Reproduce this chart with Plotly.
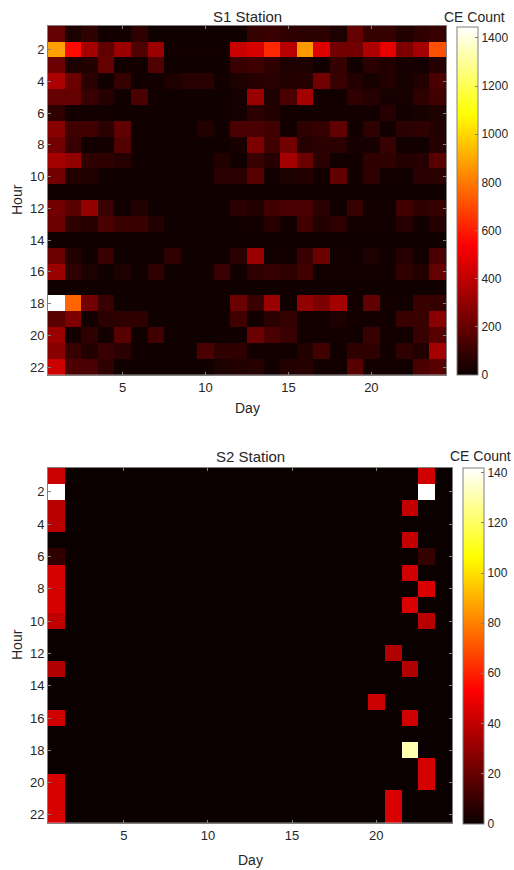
import plotly.graph_objects as go

days = list(range(1, 25))
hours = list(range(1, 23))

# S1 station CE counts: one row per hour (1..22), one value per day (1..24)
s1_counts = [
    [200, 40, 80, 15, 15, 80, 10, 10, 10, 10, 10, 10, 90, 100, 80, 70, 75, 40, 200, 90, 90, 50, 80, 100],
    [880, 560, 340, 190, 320, 150, 320, 15, 15, 15, 15, 420, 450, 625, 380, 870, 470, 230, 230, 360, 490, 250, 340, 710],
    [210, 40, 50, 200, 15, 15, 150, 10, 10, 10, 10, 100, 110, 80, 40, 40, 15, 90, 15, 70, 50, 25, 20, 60],
    [360, 210, 70, 15, 90, 15, 15, 45, 65, 65, 15, 40, 60, 65, 50, 60, 230, 100, 50, 25, 50, 25, 50, 140],
    [200, 200, 100, 60, 15, 140, 15, 10, 10, 10, 10, 20, 320, 40, 140, 340, 15, 15, 80, 60, 25, 25, 80, 120],
    [80, 15, 15, 15, 10, 10, 10, 10, 10, 10, 10, 20, 70, 50, 15, 15, 15, 15, 15, 15, 60, 15, 25, 40],
    [280, 120, 120, 70, 190, 10, 10, 10, 10, 50, 10, 140, 140, 120, 15, 80, 90, 190, 15, 80, 15, 70, 80, 50],
    [230, 100, 15, 15, 160, 10, 10, 10, 10, 10, 10, 30, 250, 120, 230, 60, 70, 70, 25, 25, 100, 15, 15, 60],
    [340, 300, 80, 80, 60, 10, 10, 10, 10, 10, 50, 15, 100, 60, 340, 210, 70, 15, 15, 80, 80, 50, 60, 170],
    [230, 50, 50, 10, 10, 10, 10, 10, 10, 10, 70, 70, 170, 15, 40, 50, 15, 190, 15, 80, 15, 15, 70, 70],
    [10, 10, 10, 10, 10, 10, 10, 10, 10, 10, 10, 10, 10, 10, 10, 10, 10, 10, 10, 10, 10, 10, 10, 10],
    [230, 170, 300, 100, 15, 50, 10, 10, 10, 10, 10, 70, 50, 120, 140, 140, 70, 15, 100, 15, 15, 120, 80, 90],
    [210, 80, 60, 140, 100, 100, 50, 10, 10, 10, 10, 15, 15, 60, 15, 120, 50, 80, 15, 15, 15, 60, 15, 60],
    [10, 10, 10, 10, 10, 10, 10, 10, 10, 10, 10, 10, 10, 10, 10, 10, 10, 10, 10, 10, 10, 10, 10, 10],
    [210, 50, 15, 100, 10, 10, 10, 80, 10, 10, 10, 70, 320, 15, 15, 100, 210, 15, 15, 40, 15, 60, 15, 140],
    [320, 80, 40, 10, 40, 10, 80, 10, 10, 10, 100, 15, 80, 90, 80, 120, 15, 15, 15, 15, 15, 80, 50, 200],
    [10, 10, 10, 10, 10, 10, 10, 10, 10, 10, 10, 10, 10, 10, 10, 10, 10, 10, 10, 10, 10, 10, 10, 10],
    [1445, 755, 230, 100, 10, 10, 10, 10, 10, 10, 10, 210, 100, 320, 15, 300, 250, 340, 15, 190, 15, 15, 100, 90],
    [170, 250, 15, 70, 80, 80, 10, 10, 10, 10, 10, 120, 15, 70, 90, 15, 15, 40, 15, 15, 15, 100, 100, 280],
    [320, 15, 80, 15, 170, 10, 120, 10, 10, 10, 10, 15, 210, 140, 100, 15, 15, 15, 15, 100, 15, 15, 100, 170],
    [280, 100, 50, 100, 70, 10, 10, 10, 10, 140, 80, 80, 15, 15, 15, 50, 120, 15, 80, 80, 15, 80, 50, 340],
    [430, 140, 140, 80, 10, 10, 10, 10, 10, 10, 40, 50, 60, 15, 50, 60, 15, 15, 170, 15, 15, 15, 140, 170],
]

# S2 station: non-zero cells as (day, hour, count); all other cells are 0
s2_days = [1, 1, 1, 1, 1, 1, 1, 1, 1, 1, 1, 1, 1, 1,
           20, 21, 21, 21,
           22, 22, 22, 22, 22, 22, 22,
           23, 23, 23, 23, 23, 23, 23]
s2_hours = [1, 2, 3, 4, 6, 7, 8, 9, 10, 13, 16, 20, 21, 22,
            15, 12, 21, 22,
            3, 5, 7, 9, 13, 16, 18,
            1, 2, 6, 8, 10, 19, 20]
s2_values = [42, 142, 38, 38, 8, 44, 44, 44, 39, 36, 43, 45, 45, 45,
             42, 36, 45, 45,
             40, 40, 43, 45, 36, 43, 131,
             43, 142, 9, 45, 38, 44, 44]

s1_max = 1445
s2_max = 142
s1_ticks = [0, 200, 400, 600, 800, 1000, 1200, 1400]
s2_ticks = [0, 20, 40, 60, 80, 100, 120, 140]
x_ticks = [5, 10, 15, 20]
y_ticks = [2, 4, 6, 8, 10, 12, 14, 16, 18, 20, 22]

s2_counts = [[0 for _ in days] for _ in hours]
for d, h, v in zip(s2_days, s2_hours, s2_values):
    s2_counts[h - 1][d - 1] = v

W, H = 514, 870
hot = [[0.0, "rgb(11,0,0)"], [0.375, "rgb(255,0,0)"],
       [0.75, "rgb(255,255,0)"], [1.0, "rgb(255,255,255)"]]
FONT = "Liberation Sans, Arial, Helvetica, sans-serif"
TXT = "#262626"

def px_x(p):
    return p / W

def px_y(p):
    return 1 - p / H

fig = go.Figure()

fig.add_trace(go.Heatmap(
    x=days, y=hours, z=s1_counts, zmin=0, zmax=s1_max, colorscale=hot,
    xaxis="x", yaxis="y",
    colorbar=dict(x=px_x(457), xanchor="left", y=px_y(27), yanchor="top",
                  lenmode="pixels", len=348, thicknessmode="pixels", thickness=21,
                  outlinecolor="#808080", outlinewidth=1,
                  tickvals=s1_ticks, ticks="inside", ticklen=3, tickcolor="#808080",
                  tickfont=dict(family=FONT, size=12, color=TXT), xpad=0, ypad=0),
))
fig.add_trace(go.Heatmap(
    x=days, y=hours, z=s2_counts, zmin=0, zmax=s2_max, colorscale=hot,
    xaxis="x2", yaxis="y2",
    colorbar=dict(x=px_x(463), xanchor="left", y=px_y(467.7), yanchor="top",
                  lenmode="pixels", len=356, thicknessmode="pixels", thickness=21,
                  outlinecolor="#808080", outlinewidth=1,
                  tickvals=s2_ticks, ticks="inside", ticklen=3, tickcolor="#808080",
                  tickfont=dict(family=FONT, size=12, color=TXT), xpad=0, ypad=0),
))

axis_common = dict(showgrid=False, zeroline=False, showline=True, mirror="ticks",
                   linecolor="#808080", linewidth=1, ticks="inside", ticklen=3,
                   tickcolor="#808080", tickfont=dict(family=FONT, size=13, color=TXT))

fig.update_layout(
    width=W, height=H, margin=dict(l=0, r=0, t=0, b=0),
    paper_bgcolor="white", plot_bgcolor="white",
    xaxis=dict(domain=[px_x(48), px_x(446)], range=[0.5, 24.5], anchor="y",
               tickvals=x_ticks, **axis_common),
    yaxis=dict(domain=[px_y(375), px_y(25.7)], range=[22.5, 0.5], anchor="x",
               tickvals=y_ticks, **axis_common),
    xaxis2=dict(domain=[px_x(48), px_x(452)], range=[0.5, 24.5], anchor="y2",
                tickvals=x_ticks, **axis_common),
    yaxis2=dict(domain=[px_y(823), px_y(467.7)], range=[22.5, 0.5], anchor="x2",
                tickvals=y_ticks, **axis_common),
    showlegend=False,
)

def label(text, x, y, size=14, angle=0):
    fig.add_annotation(text=text, x=px_x(x), y=px_y(y), xref="paper", yref="paper",
                       showarrow=False, textangle=angle, xanchor="center", yanchor="middle",
                       font=dict(family=FONT, size=size, color=TXT))

label("S1 Station", 247, 16, 15)
label("CE Count", 474, 17, 14)
label("Day", 247, 408, 14)
label("Hour", 17, 200, 14, -90)

label("S2 Station", 250, 456, 15)
label("CE Count", 480, 456, 14)
label("Day", 250, 860, 14)
label("Hour", 17, 645, 14, -90)

fig.write_html("out.html")
